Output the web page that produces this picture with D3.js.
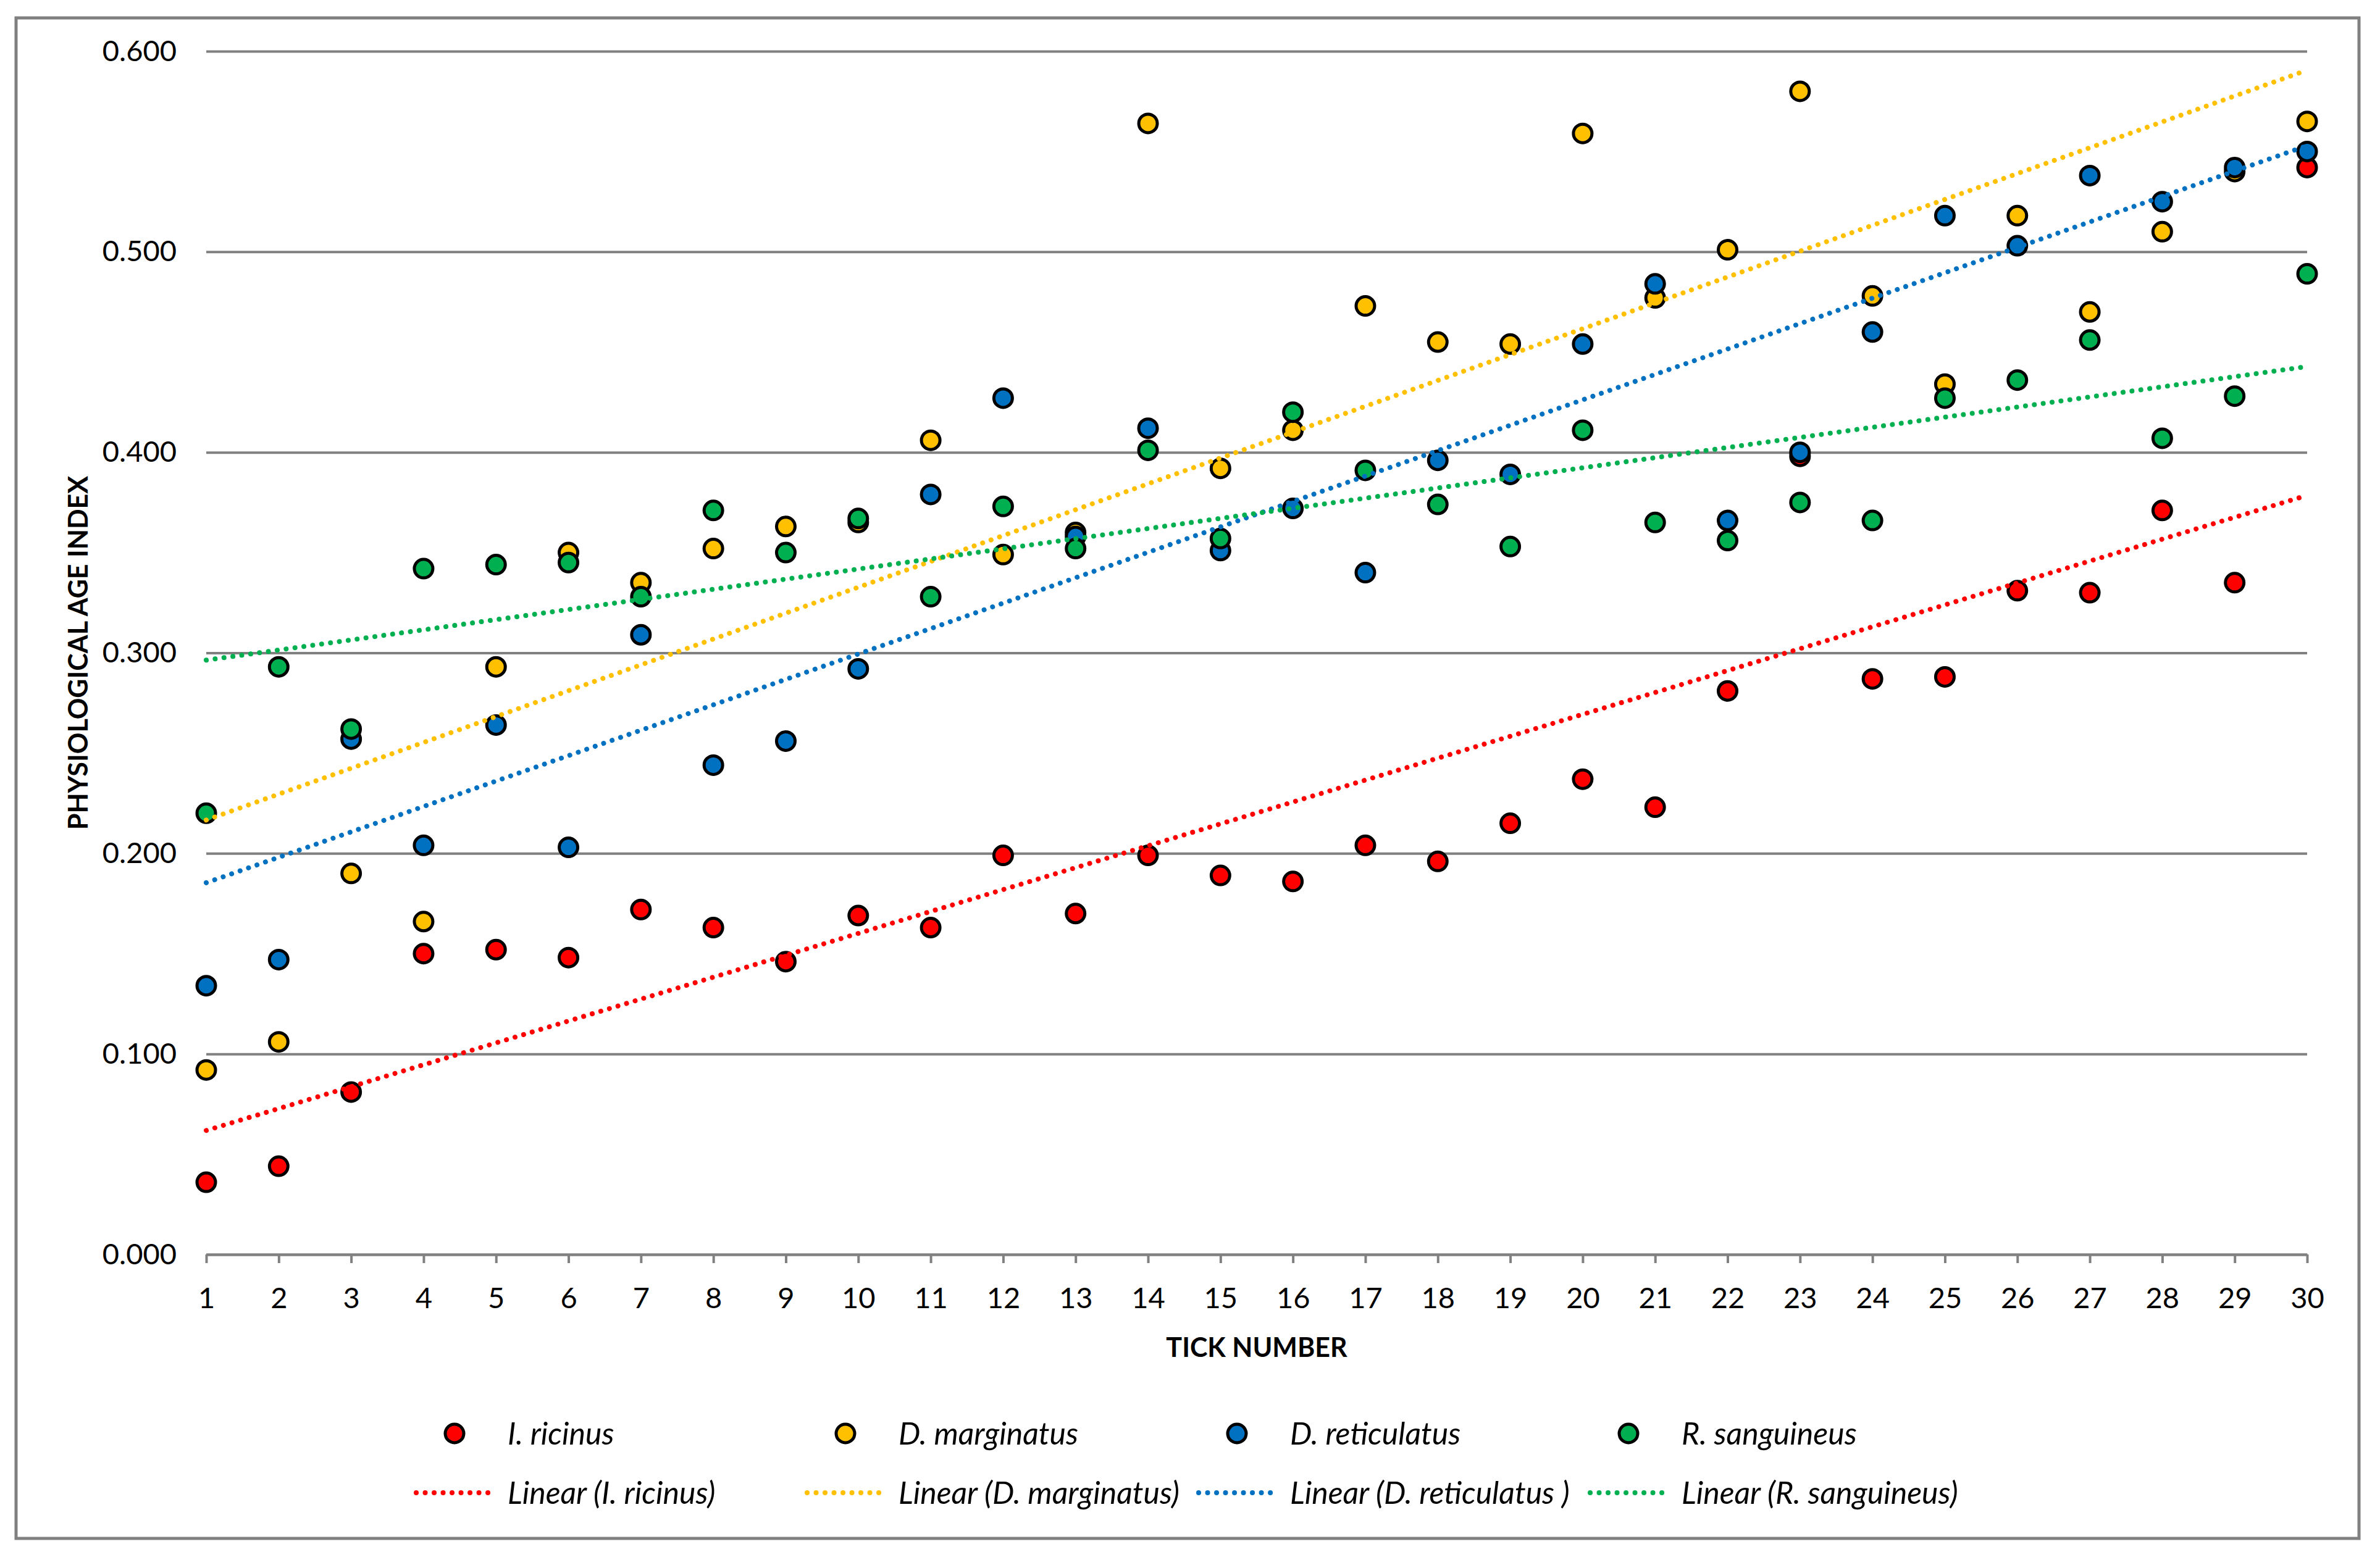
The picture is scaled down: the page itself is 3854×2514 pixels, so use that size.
<!DOCTYPE html>
<html>
<head>
<meta charset="utf-8">
<script src="https://cdn.jsdelivr.net/npm/d3@7"></script>
<style>
  body { margin: 0; background: #fff; }
  svg { display: block; font-family: Lato, "Open Sans", sans-serif; }
</style>
</head>
<body>
<svg id="chart"></svg>
<script>
// tick numbers (x categories)
const tickNumbers = [1, 2, 3, 4, 5, 6, 7, 8, 9, 10, 11, 12, 13, 14, 15,
  16, 17, 18, 19, 20, 21, 22, 23, 24, 25, 26, 27, 28, 29, 30];

// physiological age index per species
const iRicinus = [0.036, 0.044, 0.081, 0.150, 0.152, 0.148, 0.172, 0.163, 0.146, 0.169,
  0.163, 0.199, 0.170, 0.199, 0.189, 0.186, 0.204, 0.196, 0.215, 0.237,
  0.223, 0.281, 0.398, 0.287, 0.288, 0.331, 0.330, 0.371, 0.335, 0.542];
const dMarginatus = [0.092, 0.106, 0.190, 0.166, 0.293, 0.350, 0.335, 0.352, 0.363, 0.365,
  0.406, 0.349, 0.360, 0.564, 0.392, 0.411, 0.473, 0.455, 0.454, 0.559,
  0.477, 0.501, 0.580, 0.478, 0.434, 0.518, 0.470, 0.510, 0.540, 0.565];
const dReticulatus = [0.134, 0.147, 0.257, 0.204, 0.264, 0.203, 0.309, 0.244, 0.256, 0.292,
  0.379, 0.427, 0.358, 0.412, 0.351, 0.372, 0.340, 0.396, 0.389, 0.454,
  0.484, 0.366, 0.400, 0.460, 0.518, 0.503, 0.538, 0.525, 0.542, 0.550];
const rSanguineus = [0.220, 0.293, 0.262, 0.342, 0.344, 0.345, 0.328, 0.371, 0.350, 0.367,
  0.328, 0.373, 0.352, 0.401, 0.357, 0.420, 0.391, 0.374, 0.353, 0.411,
  0.365, 0.356, 0.375, 0.366, 0.427, 0.436, 0.456, 0.407, 0.428, 0.489];

const seriesNames = ["I. ricinus", "D. marginatus", "D. reticulatus", "R. sanguineus"];
const trendNames = ["Linear (I. ricinus)", "Linear (D. marginatus)", "Linear (D. reticulatus )", "Linear (R. sanguineus)"];
const seriesColors = ["#FF0000", "#FFC000", "#0070C0", "#00B050"];
const yTickValues = [0, 0.1, 0.2, 0.3, 0.4, 0.5, 0.6];

const W = 3854, H = 2514;
const margin = { left: 334, right: 118, top: 83, bottom: 482 };
const grey = "#808080";

const svg = d3.select("#chart").attr("width", W).attr("height", H);

// outer frame
svg.append("rect")
  .attr("x", 26).attr("y", 29)
  .attr("width", 3794).attr("height", 2463)
  .attr("fill", "#fff").attr("stroke", grey).attr("stroke-width", 5);

const x = d3.scaleLinear().domain([1, 30]).range([margin.left, W - margin.right]);
const y = d3.scaleLinear().domain([0, 0.6]).range([H - margin.bottom, margin.top]);

// y axis + gridlines
svg.append("g")
  .attr("transform", `translate(${margin.left},0)`)
  .call(d3.axisLeft(y)
    .tickValues(yTickValues)
    .tickSize(-(W - margin.right - margin.left))
    .tickPadding(48)
    .tickFormat(d3.format(".3f")))
  .call(g => g.select(".domain").remove())
  .call(g => g.selectAll(".tick line").attr("stroke", grey).attr("stroke-width", 4))
  .call(g => g.selectAll(".tick text").attr("font-size", 47).attr("fill", "#000")
    .attr("font-family", "Lato"));

// x axis
svg.append("g")
  .attr("transform", `translate(0,${H - margin.bottom})`)
  .call(d3.axisBottom(x)
    .tickValues(tickNumbers)
    .tickSize(14)
    .tickSizeOuter(0)
    .tickPadding(40)
    .tickFormat(d3.format("d")))
  .call(g => g.select(".domain").attr("stroke", grey).attr("stroke-width", 4))
  .call(g => g.selectAll(".tick line").attr("stroke", grey).attr("stroke-width", 4))
  .call(g => g.selectAll(".tick text").attr("font-size", 47).attr("fill", "#000")
    .attr("font-family", "Lato"));

// axis titles
svg.append("text")
  .attr("x", (margin.left + W - margin.right) / 2).attr("y", 2198)
  .attr("text-anchor", "middle")
  .attr("font-size", 43).attr("font-weight", "bold")
  .text("TICK NUMBER");

svg.append("text")
  .attr("transform", `translate(142,${(y(0) + y(0.6)) / 2}) rotate(-90)`)
  .attr("text-anchor", "middle")
  .attr("font-size", 43).attr("font-weight", "bold")
  .text("PHYSIOLOGICAL AGE INDEX");

const allSeries = [iRicinus, dMarginatus, dReticulatus, rSanguineus];

// markers
allSeries.forEach((vals, i) => {
  svg.append("g")
    .selectAll("circle")
    .data(vals)
    .join("circle")
      .attr("cx", (d, j) => x(tickNumbers[j]))
      .attr("cy", d => y(d))
      .attr("r", 15)
      .attr("fill", seriesColors[i])
      .attr("stroke", "#000")
      .attr("stroke-width", 5);
});

// least squares trend lines, drawn over markers
function linearFit(xs, ys) {
  const mx = d3.mean(xs), my = d3.mean(ys);
  const sxy = d3.sum(xs, (v, k) => (v - mx) * (ys[k] - my));
  const sxx = d3.sum(xs, v => (v - mx) * (v - mx));
  const b = sxy / sxx;
  return xv => my + b * (xv - mx);
}

const dotted = sel => sel
  .attr("stroke-width", 8)
  .attr("stroke-linecap", "round")
  .attr("stroke-dasharray", "0.01,14.5");

allSeries.forEach((vals, i) => {
  const fit = linearFit(tickNumbers, vals);
  const ends = [tickNumbers[0], tickNumbers[tickNumbers.length - 1]];
  svg.append("path")
    .datum(ends)
    .attr("d", d3.line().x(d => x(d)).y(d => y(fit(d))))
    .attr("fill", "none")
    .attr("stroke", seriesColors[i])
    .call(dotted);
});

// legend
const legendX = [670, 1303, 1937, 2571];
const legend = svg.append("g").attr("font-size", 50).attr("font-style", "italic");

seriesNames.forEach((name, i) => {
  const g = legend.append("g").attr("transform", `translate(${legendX[i]},0)`);
  g.append("circle")
    .attr("cx", 66).attr("cy", 2322).attr("r", 15)
    .attr("fill", seriesColors[i]).attr("stroke", "#000").attr("stroke-width", 5);
  g.append("text").attr("x", 152).attr("y", 2322).attr("dy", "0.35em").text(name);

  g.append("line")
    .attr("x1", 4).attr("x2", 128).attr("y1", 2418).attr("y2", 2418)
    .attr("stroke", seriesColors[i])
    .call(dotted);
  g.append("text").attr("x", 152).attr("y", 2418).attr("dy", "0.35em").text(trendNames[i]);
});
</script>
</body>
</html>
